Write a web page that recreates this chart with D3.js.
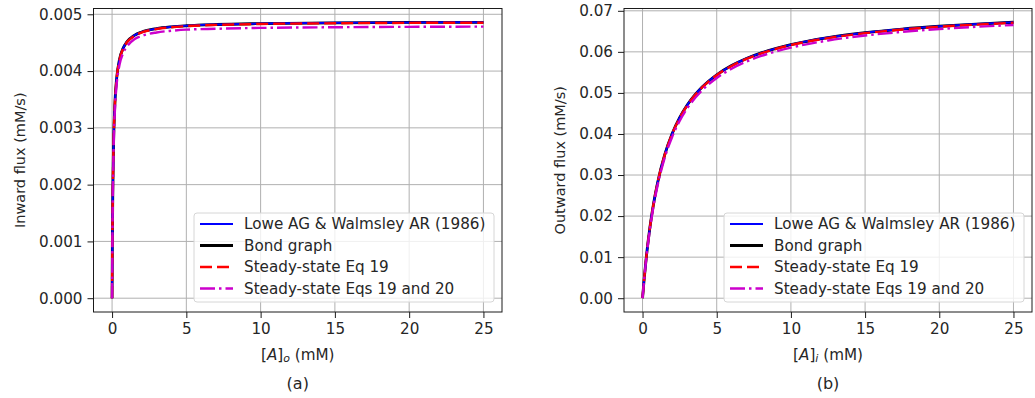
<!DOCTYPE html>
<html>
<head>
<meta charset="utf-8">
<script src="https://cdn.jsdelivr.net/npm/d3@7/dist/d3.min.js"></script>
<style>
  body { margin: 0; background: #fff; }
  svg { font-family: "DejaVu Sans", sans-serif; }
</style>
</head>
<body>
<svg id="chart" width="1035" height="398"></svg>
<script>
// ---- data ----
const seriesNames = ['Lowe AG & Walmsley AR (1986)', 'Bond graph', 'Steady-state Eq 19', 'Steady-state Eqs 19 and 20'];
const xTicks = [0, 5, 10, 15, 20, 25];

// panel (a): inward flux vs [A]o
const inX      = [0, 0.02, 0.05, 0.1, 0.2, 0.3, 0.5, 0.75, 1, 1.5, 2, 3, 4, 5, 7, 10, 15, 20, 25];
const inLowe   = [0, 0.000975, 0.001875, 0.002708, 0.003482, 0.003849, 0.004203, 0.004405, 0.004514, 0.004628, 0.004688, 0.004748, 0.004779, 0.004798, 0.004820, 0.004836, 0.004849, 0.004856, 0.004859];
const inBond   = [0, 0.000975, 0.001875, 0.002708, 0.003482, 0.003849, 0.004203, 0.004405, 0.004514, 0.004628, 0.004688, 0.004748, 0.004779, 0.004798, 0.004820, 0.004836, 0.004849, 0.004856, 0.004859];
const inEq19   = [0, 0.000970, 0.001870, 0.002700, 0.003475, 0.003842, 0.004196, 0.004398, 0.004507, 0.004621, 0.004681, 0.004741, 0.004772, 0.004791, 0.004813, 0.004829, 0.004842, 0.004849, 0.004852];
const inEq1920 = [0, 0.000900, 0.001760, 0.002580, 0.003360, 0.003740, 0.004110, 0.004320, 0.004430, 0.004560, 0.004620, 0.004680, 0.004710, 0.004730, 0.004745, 0.004760, 0.004772, 0.004779, 0.004783];
const inYTicks = [0, 0.001, 0.002, 0.003, 0.004, 0.005];

// panel (b): outward flux vs [A]i
const outX      = [0, 0.1, 0.25, 0.5, 0.75, 1, 1.5, 2, 2.5, 3, 4, 5, 6, 7, 8, 10, 12.5, 15, 17.5, 20, 22.5, 25];
const outLowe   = [0, 0.004301, 0.009862, 0.017330, 0.023182, 0.027891, 0.035000, 0.040112, 0.043966, 0.046974, 0.051367, 0.054421, 0.056667, 0.058388, 0.059749, 0.061765, 0.063478, 0.064674, 0.065556, 0.066234, 0.066770, 0.067206];
const outBond   = [0, 0.004301, 0.009862, 0.017330, 0.023182, 0.027891, 0.035000, 0.040112, 0.043966, 0.046974, 0.051367, 0.054421, 0.056667, 0.058388, 0.059749, 0.061765, 0.063478, 0.064674, 0.065556, 0.066234, 0.066770, 0.067206];
const outEq19   = [0, 0.004290, 0.009840, 0.017290, 0.023130, 0.027830, 0.034930, 0.040030, 0.043880, 0.046880, 0.051270, 0.054320, 0.056560, 0.058280, 0.059640, 0.061650, 0.063360, 0.064550, 0.065430, 0.066110, 0.066640, 0.067080];
const outEq1920 = [0, 0.004165, 0.009568, 0.016857, 0.022596, 0.027231, 0.034258, 0.039333, 0.043171, 0.046174, 0.050571, 0.053636, 0.055895, 0.057628, 0.059000, 0.061034, 0.062766, 0.063976, 0.064869, 0.065556, 0.066100, 0.066541];
const outYTicks = [0, 0.01, 0.02, 0.03, 0.04, 0.05, 0.06, 0.07];

// ---- styles ----
const styles = [
  { color: '#0000ff', width: 2, dash: null },
  { color: '#000000', width: 2.8, dash: null },
  { color: '#ff0000', width: 2.4, dash: '12,5' },
  { color: '#cc00cc', width: 2.4, dash: '15,4,2.5,4' }
];
const textColor = '#262626';
const fs = '15.2px';

const svg = d3.select('#chart');

function drawPanel(opt) {
  const x = d3.scaleLinear().domain([-1.25, 26.25]).range([opt.left, opt.right]);
  const y = d3.scaleLinear().domain(opt.yDomain).range([opt.bottom, opt.top]);
  const g = svg.append('g');

  // grid
  g.append('g').selectAll('line.gx').data(xTicks).enter().append('line')
    .attr('x1', d => x(d)).attr('x2', d => x(d))
    .attr('y1', opt.top).attr('y2', opt.bottom)
    .attr('stroke', '#b0b0b0').attr('stroke-width', 1);
  g.append('g').selectAll('line.gy').data(opt.yTicks).enter().append('line')
    .attr('x1', opt.left).attr('x2', opt.right)
    .attr('y1', d => y(d)).attr('y2', d => y(d))
    .attr('stroke', '#b0b0b0').attr('stroke-width', 1);

  // curves
  const line = d3.line()
    .x((d, i) => x(opt.xs[i]))
    .y(d => y(d))
    .curve(d3.curveMonotoneX);
  const order = [1, 0, 2, 3];
  order.forEach(k => {
    const s = styles[k];
    g.append('path')
      .attr('d', line(opt.series[k]))
      .attr('fill', 'none')
      .attr('stroke', s.color)
      .attr('stroke-width', s.width)
      .attr('stroke-dasharray', s.dash)
      .attr('stroke-linejoin', 'round');
  });

  // frame
  g.append('rect')
    .attr('x', opt.left).attr('y', opt.top)
    .attr('width', opt.right - opt.left).attr('height', opt.bottom - opt.top)
    .attr('fill', 'none').attr('stroke', '#1a1a1a').attr('stroke-width', 1);

  // axes
  const xa = g.append('g').attr('transform', `translate(0,${opt.bottom})`)
    .call(d3.axisBottom(x).tickValues(xTicks).tickSize(6).tickPadding(5).tickFormat(d3.format('d')));
  const ya = g.append('g').attr('transform', `translate(${opt.left},0)`)
    .call(d3.axisLeft(y).tickValues(opt.yTicks).tickSize(6).tickPadding(5).tickFormat(d3.format(opt.yFmt)));
  [xa, ya].forEach(a => {
    a.select('.domain').remove();
    a.selectAll('line').attr('stroke', '#1a1a1a');
    a.selectAll('text').attr('fill', textColor)
      .style('font-size', fs).style('font-family', '"DejaVu Sans", sans-serif');
  });

  // y label
  g.append('text')
    .attr('transform', `translate(${opt.yLabelX},${(opt.top + opt.bottom) / 2}) rotate(-90)`)
    .attr('text-anchor', 'middle').attr('dominant-baseline', 'central')
    .attr('fill', textColor).style('font-size', '14.5px')
    .text(opt.yLabel);

  // x label  [A]_o (mM)
  const xl = g.append('text')
    .attr('x', x(12.5)).attr('y', 360)
    .attr('text-anchor', 'middle')
    .attr('fill', textColor).style('font-size', fs);
  xl.append('tspan').text('[');
  xl.append('tspan').style('font-style', 'italic').text('A');
  xl.append('tspan').text(']');
  xl.append('tspan').style('font-style', 'italic').style('font-size', '11px').attr('dy', 2).text(opt.sub);
  xl.append('tspan').attr('dy', -2).text(' (mM)');

  // panel caption
  g.append('text')
    .attr('x', x(12.5)).attr('y', 389)
    .attr('text-anchor', 'middle')
    .attr('fill', textColor).style('font-size', '16px')
    .text(opt.caption);

  // legend
  const lgW = 300, lgH = 89;
  const lgX = opt.right - 8 - lgW, lgY = 213;
  const lg = g.append('g').attr('transform', `translate(${lgX},${lgY})`);
  lg.append('rect')
    .attr('width', lgW).attr('height', lgH).attr('rx', 3)
    .attr('fill', 'rgba(255,255,255,0.8)').attr('stroke', '#d6d6d6').attr('stroke-width', 1);
  seriesNames.forEach((name, i) => {
    const cy = 11 + i * 21.5;
    const s = styles[i];
    lg.append('line')
      .attr('x1', 6).attr('x2', 39).attr('y1', cy).attr('y2', cy)
      .attr('stroke', s.color).attr('stroke-width', s.width)
      .attr('stroke-dasharray', s.dash);
    lg.append('text')
      .attr('x', 50).attr('y', cy).attr('dominant-baseline', 'central')
      .attr('fill', textColor).style('font-size', fs)
      .text(name);
  });
}

drawPanel({
  left: 93.5, right: 502, top: 8.5, bottom: 312,
  yDomain: [-0.000243, 0.005102], yTicks: inYTicks, yFmt: '.3f',
  xs: inX, series: [inLowe, inBond, inEq19, inEq1920],
  yLabel: 'Inward flux (mM/s)', yLabelX: 20, sub: 'o', caption: '(a)'
});

drawPanel({
  left: 624, right: 1032, top: 8.5, bottom: 312,
  yDomain: [-0.00336, 0.07056], yTicks: outYTicks, yFmt: '.2f',
  xs: outX, series: [outLowe, outBond, outEq19, outEq1920],
  yLabel: 'Outward flux (mM/s)', yLabelX: 560, sub: 'i', caption: '(b)'
});
</script>
</body>
</html>
